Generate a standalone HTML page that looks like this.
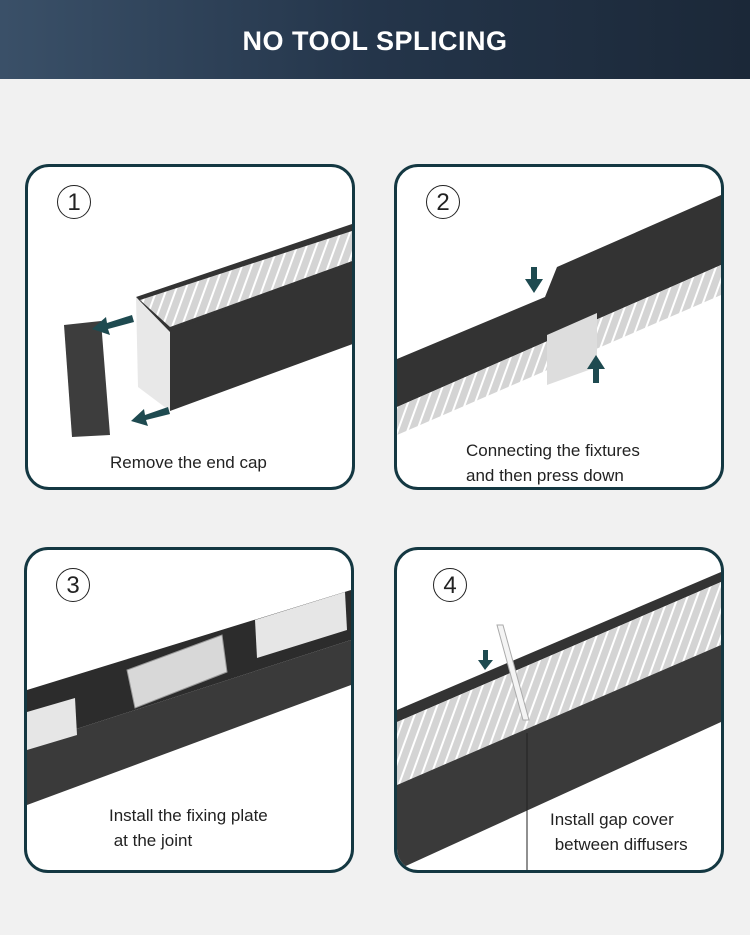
<!DOCTYPE html>
<html><head><style>
body{margin:0;width:750px;height:935px;background:#f1f1f1;font-family:"Liberation Sans",sans-serif;position:relative;overflow:hidden}
.hdr{position:absolute;left:0;top:0;width:750px;height:79px;background:linear-gradient(90deg,#3a5068,#24354a 50%,#1b2838);color:#fff;font-weight:bold;font-size:27px;text-align:center;line-height:82px;letter-spacing:0.5px}
.p{position:absolute;background:#fff;border:3px solid #143842;border-radius:24px;overflow:hidden}
.p svg{position:absolute;left:0;top:0}
.n{position:absolute;width:32px;height:32px;border:1.5px solid #222;border-radius:50%;font-size:24px;text-align:center;line-height:33px;color:#222;background:transparent}
.t{position:absolute;font-size:17px;color:#222;line-height:25px}
</style></head><body>
<div class="hdr">NO TOOL SPLICING</div>

<div class="p" style="left:25px;top:164px;width:324px;height:320px">
<svg width="324" height="320">
<defs><pattern id="st" width="9" height="20" patternUnits="userSpaceOnUse" patternTransform="rotate(20)"><rect width="9" height="20" fill="#d4d4d4"/><rect width="2" height="20" fill="#fff"/></pattern></defs>
<polygon points="108,130 330,55 330,95 140,168" fill="#333"/>
<polygon points="112,133 330,62 330,92 142,160" fill="url(#st)"/>
<polygon points="140,165 330,92 330,175 142,244" fill="#333"/>
<polygon points="108,130 142,165 142,244 110,220" fill="#e8e8e8"/>
<polygon points="36,158 73,154 82,268 44,270" fill="#3d3d3d"/>
<polygon points="104,148 106,155 80,162 82,168 64,162 78,150 79,156" fill="#1e4a50"/>
<polygon points="140,240 142,247 118,253 120,259 103,254 116,242 117,248" fill="#1e4a50"/>
</svg>
<div class="n" style="left:29px;top:18px">1</div>
<div class="t" style="left:82px;top:283px">Remove the end cap</div>
</div>

<div class="p" style="left:394px;top:164px;width:324px;height:320px">
<svg width="324" height="320">
<polygon points="0,192 148,130 160,100 324,28 324,98 0,240" fill="#333"/>
<polygon points="0,240 324,98 324,128 0,268" fill="url(#st)"/>
<polygon points="150,168 200,146 200,200 150,218" fill="#ddd"/>
<rect x="134" y="100" width="6" height="14" fill="#1e4a50"/><polygon points="128,112 146,112 137,126" fill="#1e4a50"/>
<rect x="196" y="200" width="6" height="16" fill="#1e4a50"/><polygon points="190,202 208,202 199,188" fill="#1e4a50"/>
</svg>
<div class="n" style="left:29px;top:18px">2</div>
<div class="t" style="left:69px;top:271px">Connecting the fixtures<br>and then press down</div>
</div>

<div class="p" style="left:24px;top:547px;width:324px;height:320px">
<svg width="324" height="320">
<polygon points="0,140 324,40 324,90 0,195" fill="#2c2c2c"/>
<polygon points="0,195 324,90 324,135 0,255" fill="#3a3a3a"/>
<polygon points="228,70 318,42 320,80 230,108" fill="#e6e6e6"/>
<polygon points="0,162 48,148 50,185 0,200" fill="#e6e6e6"/>
<polygon points="100,120 195,85 200,122 108,158" fill="#d8d8d8" stroke="#999"/>
</svg>
<div class="n" style="left:29px;top:18px">3</div>
<div class="t" style="left:82px;top:253px">Install the fixing plate<br>&nbsp;at the joint</div>
</div>

<div class="p" style="left:394px;top:547px;width:324px;height:320px">
<svg width="324" height="320">
<polygon points="0,160 324,22 324,32 0,172" fill="#333"/>
<polygon points="0,172 324,32 324,95 0,235" fill="url(#st)"/>
<polygon points="0,235 324,95 324,172 0,320" fill="#3a3a3a"/>
<line x1="130" y1="183" x2="130" y2="320" stroke="#222"/>
<polygon points="100,75 106,75 132,170 126,170" fill="#f4f4f4" stroke="#aaa"/>
<rect x="86" y="100" width="5" height="12" fill="#1e4a50"/><polygon points="81,110 96,110 88,120" fill="#1e4a50"/>
</svg>
<div class="n" style="left:36px;top:18px">4</div>
<div class="t" style="left:153px;top:257px;background:#fff">Install gap cover<br>&nbsp;between diffusers</div>
</div>
</body></html>
